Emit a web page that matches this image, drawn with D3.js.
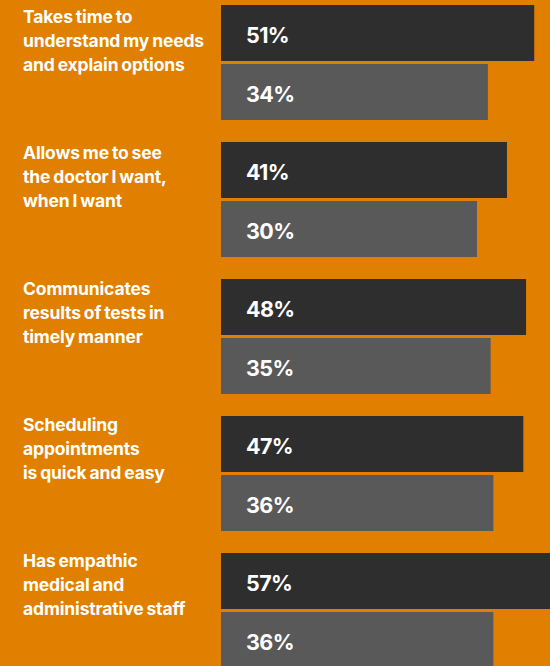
<!DOCTYPE html>
<html>
<head>
<meta charset="utf-8">
<script src="https://cdnjs.cloudflare.com/ajax/libs/d3/7.8.5/d3.min.js"></script>
<style>
  html, body { margin: 0; padding: 0; background: #e07f00; overflow: hidden; }
  text { font-family: Inter, "Liberation Sans", Arial, sans-serif; font-weight: bold; fill: #fff; }
</style>
</head>
<body>
<script>
const width = 550;
const height = 666;

// data
const categories = [
  ["Takes time to", "understand my needs", "and explain options"],
  ["Allows me to see", "the doctor I want,", "when I want"],
  ["Communicates", "results of tests in", "timely manner"],
  ["Scheduling", "appointments", "is quick and easy"],
  ["Has empathic", "medical and", "administrative staff"]
];
const seriesA = [51, 41, 48, 47, 57];
const seriesB = [34, 30, 35, 36, 36];
const colors = ["#2e2e2e", "#595959"];

const svg = d3.select("body")
  .append("svg")
  .attr("width", width)
  .attr("height", height);

svg.append("rect")
  .attr("width", width).attr("height", height)
  .attr("fill", "#e07f00");

const barLeft = 221;
const barH = 56;
const barGap = 3;

// bars in the original are not drawn from zero, keep the same stretch
const x = d3.scaleLinear()
  .domain([30, 50])
  .range([477, 531.5]);

const y = d3.scaleLinear()
  .domain([0, 4])
  .range([5, 553]);

const groups = svg.selectAll(".group")
  .data(categories)
  .enter().append("g")
    .attr("class", "group")
    .attr("transform", (d, i) => "translate(0," + y(i) + ")");

[seriesA, seriesB].forEach(function(series, s) {
  groups.append("rect")
    .attr("x", barLeft)
    .attr("y", s * (barH + barGap))
    .attr("width", (d, i) => x(series[i]) - barLeft)
    .attr("height", barH)
    .attr("fill", colors[s]);

  groups.append("text")
    .attr("x", barLeft + 25)
    .attr("y", s * (barH + barGap) + 38)
    .attr("font-size", 21.5)
    .attr("font-weight", 800)
    .attr("letter-spacing", -0.6)
    .text((d, i) => series[i] + "%");
});

// category labels
svg.selectAll(".label")
  .data(categories)
  .enter().append("text")
    .attr("class", "label")
    .attr("x", 23)
    .attr("y", (d, i) => 22.7 + i * 136)
    .attr("font-size", 17.5)
    .attr("letter-spacing", -0.15)
    .attr("word-spacing", -1)
    .selectAll("tspan")
    .data(d => d)
    .enter().append("tspan")
      .attr("x", 23)
      .attr("dy", (d, i) => i === 0 ? 0 : 24)
      .text(d => d);
</script>
</body>
</html>
